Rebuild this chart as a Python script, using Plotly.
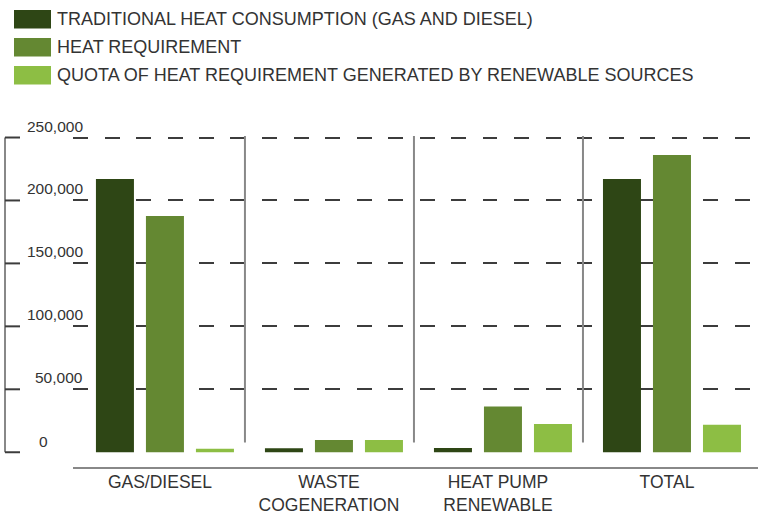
import plotly.graph_objects as go

categories = ["GAS/DIESEL", "WASTE<br>COGENERATION", "HEAT PUMP<br>RENEWABLE", "TOTAL"]
series_names = [
    "TRADITIONAL HEAT CONSUMPTION (GAS AND DIESEL)",
    "HEAT REQUIREMENT",
    "QUOTA OF HEAT REQUIREMENT GENERATED BY RENEWABLE SOURCES",
]
traditional = [217000, 3200, 3400, 217000]
requirement = [187700, 9700, 36400, 236100]
quota = [2800, 9700, 22500, 21800]
y_ticks = [0, 50000, 100000, 150000, 200000, 250000]
y_tick_labels = ["0", "50,000", "100,000", "150,000", "200,000", "250,000"]

colors = ["#2E4615", "#648832", "#8DBE44"]
FONT = "Liberation Sans, Arial, sans-serif"
TXT = "#333333"

fig = go.Figure()
for name, vals, col in zip(series_names, [traditional, requirement, quota], colors):
    fig.add_trace(go.Bar(x=list(range(len(categories))), y=vals, name=name,
                         marker=dict(color=col, line=dict(width=0)), showlegend=False))

# custom legend (large swatches)
for i, (name, col) in enumerate(zip(series_names, colors)):
    top = 120 - 28 * i
    fig.add_shape(type="rect", xref="paper", yref="paper", xsizemode="pixel", ysizemode="pixel",
                  xanchor=0, yanchor=1, x0=-59, x1=-22, y0=top, y1=top - 18.5,
                  fillcolor=col, line=dict(width=0))
    fig.add_annotation(xref="paper", yref="paper", x=0, y=1, xshift=-18, yshift=111 - 28 * i,
                       xanchor="left", yanchor="middle", text=name, showarrow=False,
                       font=dict(family=FONT, size=18, color=TXT))

# y tick labels
for v, lab in zip(y_ticks, y_tick_labels):
    if v == 0:
        fig.add_annotation(xref="paper", yref="y", x=0, y=v, xshift=-30, yshift=11,
                           xanchor="center", yanchor="middle", text=lab, showarrow=False,
                           font=dict(family=FONT, size=15.5, color=TXT))
    else:
        fig.add_annotation(xref="paper", yref="y", x=0, y=v, xshift=12, yshift=11.5,
                           xanchor="right", yanchor="middle", text=lab, showarrow=False,
                           font=dict(family=FONT, size=15.5, color=TXT))

# left bracket
fig.add_shape(type="line", xref="paper", yref="y", xsizemode="pixel", xanchor=0,
              x0=-68, x1=-68, y0=min(y_ticks), y1=max(y_ticks),
              line=dict(color="#888888", width=2))
for v in y_ticks:
    fig.add_shape(type="line", xref="paper", yref="y", xsizemode="pixel", xanchor=0,
                  x0=-68, x1=-53, y0=v, y1=v, line=dict(color="#3c3c3c", width=2))

# group separators
for i in range(len(categories) - 1):
    fig.add_shape(type="line", xref="x", yref="paper", xsizemode="pixel", xanchor=i + 0.5,
                  x0=-4.5, x1=-4.5, y0=0.0727, y1=0.982,
                  line=dict(color="#888888", width=2))

fig.update_layout(
    width=758, height=517,
    margin=dict(l=73, r=0, t=130, b=50),
    paper_bgcolor="white", plot_bgcolor="white",
    barmode="group", bargap=0.1124, bargroupgap=0.24,
    font=dict(family=FONT, color=TXT),
    xaxis=dict(
        range=[-0.544, 3.509], tickmode="array", tickvals=list(range(len(categories))),
        ticktext=categories, showgrid=False, zeroline=False,
        showline=True, linecolor="#888888", linewidth=2, ticks="",
        tickfont=dict(family=FONT, size=17.5, color=TXT), ticklabelshift=-5,
        ticklabelstandoff=-2,
    ),
    yaxis=dict(
        range=[-11716, 255963], tickmode="array", tickvals=[t for t in y_ticks if t > 0],
        showticklabels=False, showgrid=True, gridcolor="#3c3c3c", gridwidth=2,
        griddash="15px,16.5px", zeroline=False, showline=False, ticks="",
    ),
)

fig.write_html("out.html", config={"displayModeBar": False},
               post_script="document.body.style.margin='0';document.body.style.overflow='hidden';")
